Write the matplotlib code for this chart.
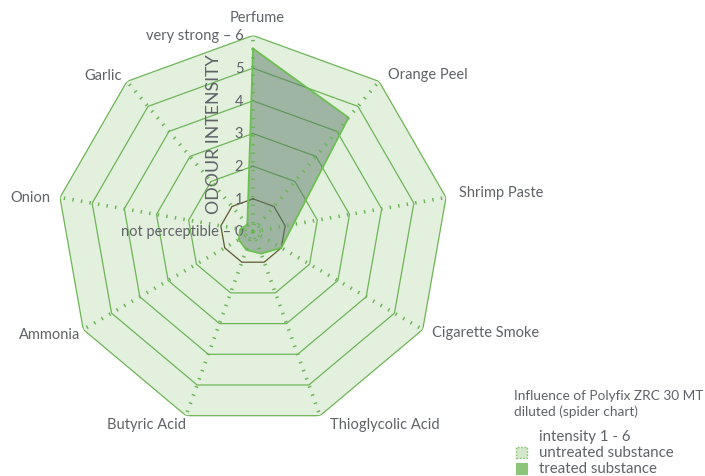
import numpy as np
import matplotlib
matplotlib.use("Agg")
import matplotlib.pyplot as plt
from matplotlib.patches import Rectangle

categories = ["Perfume", "Orange Peel", "Shrimp Paste", "Cigarette Smoke",
              "Thioglycolic Acid", "Butyric Acid", "Ammonia", "Onion", "Garlic"]
untreated = [6, 6, 6, 6, 6, 6, 6, 6, 6]
treated = [5.6, 4.55, 1.25, 1.0, 0.72, 0.6, 0.5, 0.4, 0.27]
levels = [1, 2, 3, 4, 5, 6]
level_labels = ["1", "2", "3", "4", "5", "very strong \u2013 6"]
zero_label = "not perceptible \u2013 0"
axis_title = "ODOUR INTENSITY"
legend_title = "Influence of Polyfix ZRC 30 MT\ndiluted (spider chart)"
legend_sub = "intensity 1 - 6"
legend_names = ["untreated substance", "treated substance"]

plt.rcParams['font.family'] = ['Lato', 'DejaVu Sans']
TXT = '#5f6368'
GREEN = '#6db556'
OLIVE = '#5e5a30'

W, H = 705, 477
fig = plt.figure(figsize=(W / 100, H / 100), dpi=100)
cx, cy, R = 253, 232.5, 196
ax = fig.add_axes([(cx - R) / W, (H - cy - R) / H, 2 * R / W, 2 * R / H], projection='polar')
ax.set_theta_zero_location('N')
ax.set_theta_direction(-1)
ax.set_ylim(0, 6)
ax.grid(False)
ax.spines['polar'].set_visible(False)
ax.set_xticks([])
ax.set_yticks([])
ax.patch.set_alpha(0)

n = len(categories)
theta = np.linspace(0, 2 * np.pi, n, endpoint=False)
tc = np.append(theta, theta[0])

# untreated substance (full area)
ax.fill(tc, np.append(untreated, untreated[0]), color='#e3f0de', zorder=1, lw=0)

# rings
for lv in levels:
    col = OLIVE if lv == 1 else GREEN
    ax.plot(tc, [lv] * (n + 1), color=col, lw=0.9, zorder=2)

# treated
ax.fill(tc, np.append(treated, treated[0]), facecolor='#587c68', alpha=0.5,
        edgecolor='none', zorder=3)
ax.plot(tc, np.append(treated, treated[0]), color='#6cc04f', lw=1.3, zorder=4)

# spokes (dotted ticks)
for t in theta:
    ax.plot([t, t], [0, 6], color=GREEN, lw=2.6, linestyle=(0, (0.4, 2.0)),
            solid_capstyle='butt', dash_capstyle='butt', zorder=5)
# small dashed circle in the centre
tt = np.linspace(0, 2 * np.pi, 100)
ax.plot(tt, [0.22] * 100, color=GREEN, lw=1.0, linestyle=(0, (2, 1.5)), zorder=5)

# category labels (offsets in points from each outer vertex)
fs = 10.5
label_pos = [((3, 13), 'center'), ((6.5, 5), 'left'), ((9, 4), 'left'),
             ((6.5, -1.8), 'left'), ((7, -6), 'left'), ((0, -6), 'right'),
             ((-2.4, -3.2), 'right'), ((-7, 0), 'right'), ((-3.6, 4.5), 'right')]
for t, name, (off, ha) in zip(theta, categories, label_pos):
    ax.annotate(name, (t, 6), xytext=off, textcoords='offset points',
                ha=ha, va='center', fontsize=fs, color=TXT)

# level labels on the Perfume axis
for lv, lab in zip(levels, level_labels):
    ax.annotate(lab, (0, lv), xytext=(-7, 0), textcoords='offset points',
                ha='right', va='center', fontsize=fs, color=TXT)
ax.annotate(zero_label, (0, 0), xytext=(-7, 0), textcoords='offset points',
            ha='right', va='center', fontsize=fs, color=TXT)
ax.annotate(axis_title, (0, 3.0), xytext=(-28, 0), textcoords='offset points',
            ha='center', va='center', rotation=90, fontsize=12.8, color=TXT)

# legend
for i, line in enumerate(legend_title.split('\n')):
    fig.text(514 / W, 1 - (396 + 15.5 * i) / H, line, ha='left', va='center',
             fontsize=9.8, color=TXT)
fig.text(539 / W, 1 - 437 / H, legend_sub, ha='left', va='center', fontsize=10.8, color=TXT)
fig.text(539 / W, 1 - 453 / H, legend_names[0], ha='left', va='center', fontsize=10.8, color=TXT)
fig.text(539 / W, 1 - 469 / H, legend_names[1], ha='left', va='center', fontsize=10.8, color=TXT)
fig.add_artist(Rectangle((516 / W, 1 - 459 / H), 11 / W, 11 / H, transform=fig.transFigure,
                         facecolor='#d3e8cb', edgecolor='#86c070', lw=1.0,
                         linestyle=(0, (1.2, 1.2))))
fig.add_artist(Rectangle((516 / W, 1 - 475 / H), 11 / W, 11 / H, transform=fig.transFigure,
                         facecolor='#8cc47a', edgecolor='#8cc47a', lw=0.8))

fig.savefig('out.png', dpi=100)
